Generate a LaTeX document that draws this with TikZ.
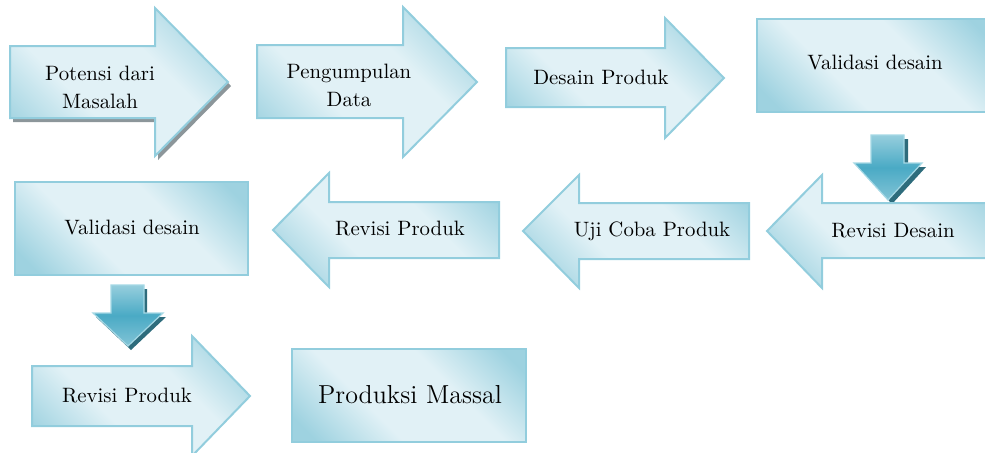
\documentclass[tikz,border=0pt]{standalone}
\definecolor{edgeblue}{RGB}{146,205,221}
\definecolor{darkfill}{RGB}{158,210,224}
\definecolor{lightfill}{RGB}{225,241,246}
\definecolor{shadowgrey}{RGB}{140,150,154}
\definecolor{dnedge}{RGB}{165,216,229}
\definecolor{dntop}{RGB}{150,206,221}
\definecolor{dnmid}{RGB}{74,170,197}
\definecolor{dnbot}{RGB}{130,196,214}
\definecolor{dnshade}{RGB}{46,108,124}
\pgfdeclareverticalshading{flowshade}{100bp}{color(0bp)=(darkfill); color(20bp)=(darkfill); color(39bp)=(lightfill); color(61bp)=(lightfill); color(80bp)=(darkfill); color(100bp)=(darkfill)}
\begin{document}
\begin{tikzpicture}[x=.5pt,y=-.5pt,font=\fontsize{10.4}{14}\selectfont,
	flowshape/.style={draw=edgeblue,line width=1pt,shading=flowshade,shading angle=-45},
	greyshadow/.style={fill=shadowgrey,draw=none},
	dnarrow/.style={draw=dnedge,line width=.6pt,top color=dntop,bottom color=dnbot,middle color=dnmid},
	dnshadow/.style={fill=dnshade,draw=none},
	txt/.style={align=center,inner sep=0pt}]
	\useasboundingbox (0,0) rectangle (985,452);
	% top row
	\draw[greyshadow,shift={(3,4)}] (10,46)--(155,46)--(155,8)--(228,82)--(155,156)--(155,118)--(10,118)--cycle;
	\draw[flowshape] (10,46)--(155,46)--(155,8)--(228,82)--(155,156)--(155,118)--(10,118)--cycle;
	\node[txt] (potensi) at (100,87) {Potensi dari\\Masalah};
	\draw[flowshape] (257,45)--(403,45)--(403,7)--(477,82)--(403,157)--(403,118)--(257,118)--cycle;
	\node[txt] (pengumpulan) at (349,85) {Pengumpulan\\Data};
	\draw[flowshape] (506,48)--(665,48)--(665,18)--(724,78)--(665,138)--(665,107)--(506,107)--cycle;
	\node[txt] (desain) at (601,77) {Desain Produk};
	\draw[flowshape] (757,19) rectangle (995,112);
	\node[txt] (valid1) at (875,63) {Validasi desain};
	\draw[dnshadow,shift={(4,4)}] (871,135)--(904,135)--(904,163)--(922,163)--(888,200)--(854,163)--(871,163)--cycle;
	\draw[dnarrow] (871,135)--(904,135)--(904,163)--(922,163)--(888,200)--(854,163)--(871,163)--cycle;
	% middle row
	\draw[flowshape] (767,231)--(822,175)--(822,203)--(995,203)--(995,258)--(822,258)--(822,288)--cycle;
	\node[txt] (revdesain) at (893,231) {Revisi Desain};
	\draw[flowshape] (523,231)--(579,175)--(579,203)--(749,203)--(749,259)--(579,259)--(579,288)--cycle;
	\node[txt] (ujicoba) at (652,231) {Uji Coba Produk};
	\draw[flowshape] (273,230)--(329,173)--(329,202)--(499,202)--(499,258)--(329,258)--(329,287)--cycle;
	\node[txt] (revprod1) at (400,229) {Revisi Produk};
	\draw[flowshape] (15,182) rectangle (248,275);
	\node[txt] (valid2) at (132,228) {Validasi desain};
	\draw[dnshadow,shift={(3,4)}] (111,285)--(144,285)--(144,313)--(163,313)--(128,346)--(93,313)--(111,313)--cycle;
	\draw[dnarrow] (111,285)--(144,285)--(144,313)--(163,313)--(128,346)--(93,313)--(111,313)--cycle;
	% bottom row
	\draw[flowshape] (32,366)--(192,366)--(192,336)--(250,396)--(192,456)--(192,426)--(32,426)--cycle;
	\node[txt] (revprod2) at (127,395) {Revisi Produk};
	\draw[flowshape] (292,349) rectangle (526,442);
	\node[txt,font=\fontsize{13}{15}\selectfont] (massal) at (410,395) {Produksi Massal};
\end{tikzpicture}
\end{document}
